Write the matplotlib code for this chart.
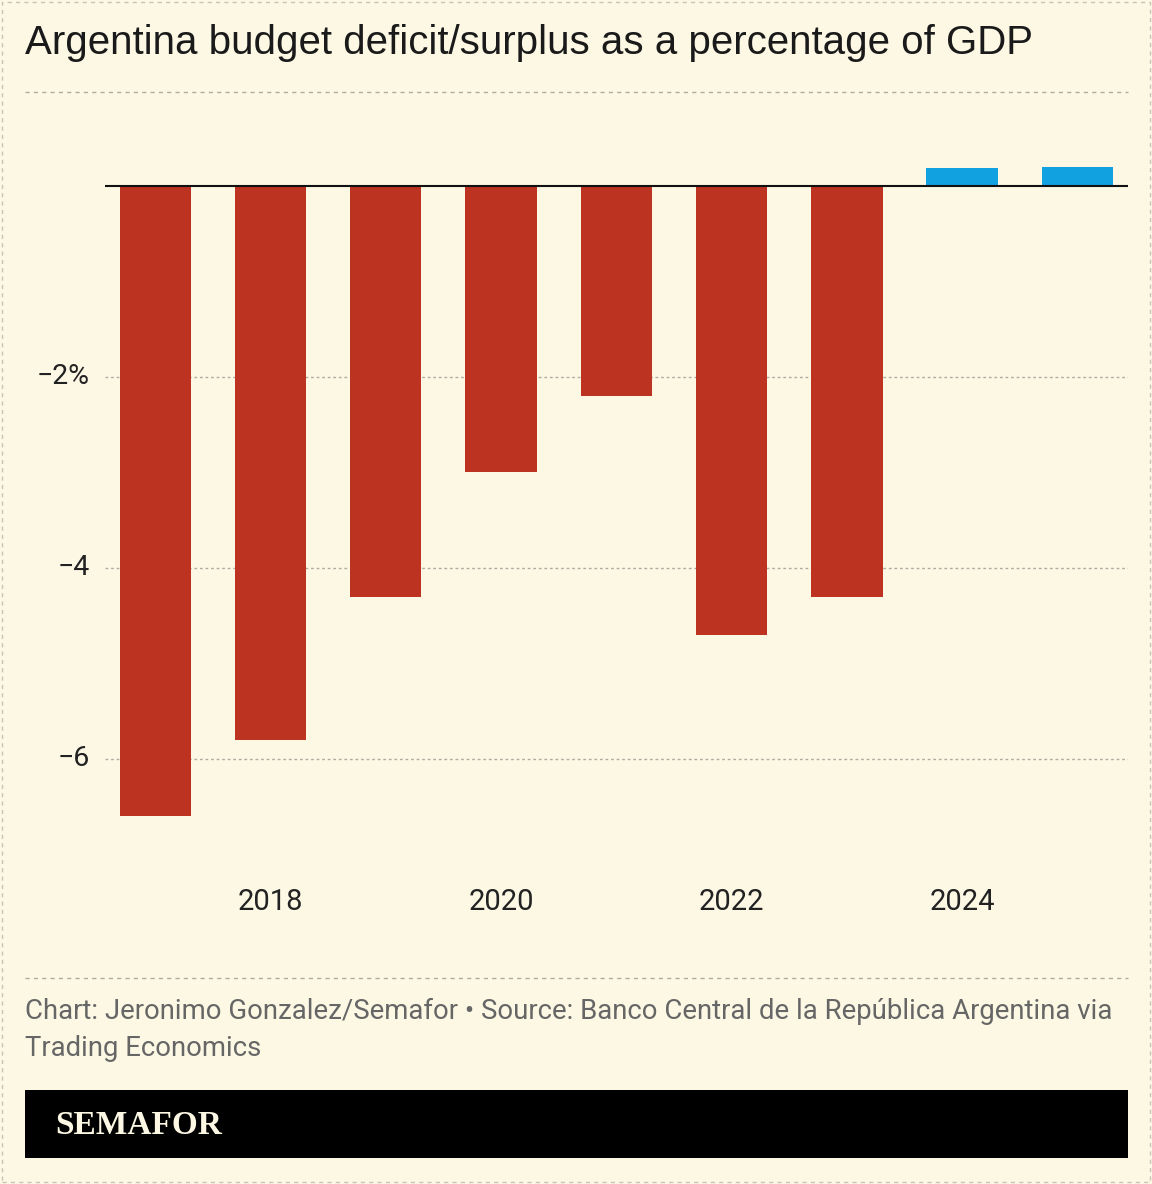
import matplotlib
matplotlib.use("Agg")
import matplotlib.pyplot as plt
from matplotlib.patches import Rectangle

years = [2017, 2018, 2019, 2020, 2021, 2022, 2023, 2024, 2025]
values = [-6.6, -5.8, -4.3, -3.0, -2.2, -4.7, -4.3, 0.19, 0.2]
xticks = [2018, 2020, 2022, 2024]
yticks = [-2, -4, -6]
ylabels = ["\u22122%", "\u22124", "\u22126"]

W, H = 1152, 1184
bg = "#fcf8e4"
fig = plt.figure(figsize=(W/100, H/100), dpi=100, facecolor=bg)

def fx(px): return px / W
def fy(py): return 1 - py / H

ax = fig.add_axes([fx(25), fy(960), fx(1128) - fx(25), fy(92) - fy(960)])
ax.set_facecolor(bg)
ax.set_xlim(2015.87, 2025.44)
ax.set_ylim(-8.105, 0.984)
for s in ax.spines.values():
    s.set_visible(False)
ax.set_xticks([]); ax.set_yticks([])

for y, lab in zip(yticks, ylabels):
    ax.hlines(y, 2016.56, 2025.44, colors="#b0aca0", linestyles=(0, (2, 2)), lw=1)
    ax.text(2016.43, y, lab, ha="right", va="center", fontsize=20.5, family="Roboto", color="#222")

cols = ["#bc3321" if v < 0 else "#11a0e0" for v in values]
ax.bar(years, values, width=0.62, color=cols, zorder=2)
ax.hlines(0, 2016.56, 2025.44, colors="#111", lw=1.5, zorder=3)
for t in xticks:
    ax.text(t, -7.5, str(t), ha="center", va="center", fontsize=21, family="Roboto", color="#222")

fig.text(fx(25), fy(43), "Argentina budget deficit/surplus as a percentage of GDP",
         fontsize=29, family="Liberation Sans", color="#1a1a1a", va="center")
for py in (92, 978):
    fig.add_artist(plt.Line2D([fx(25), fx(1128)], [fy(py), fy(py)], color="#b0aca0",
                              ls=(0, (3, 3)), lw=1))
fig.text(fx(25), fy(1011), "Chart: Jeronimo Gonzalez/Semafor \u2022 Source: Banco Central de la Rep\u00fablica Argentina via",
         fontsize=19.8, family="Roboto", color="#666", va="center")
fig.text(fx(25), fy(1049), "Trading Economics", fontsize=19.8, family="Roboto", color="#666", va="center")
fig.add_artist(Rectangle((fx(25), fy(1158)), fx(1128) - fx(25), fy(1090) - fy(1158),
                         transform=fig.transFigure, facecolor="black", edgecolor="none"))
fig.text(fx(55), fy(1125), "SEMAFOR", fontsize=24, family="Liberation Serif", weight="bold",
         color="#fcf8e4", va="center")
fig.add_artist(Rectangle((fx(2), fy(1182)), fx(1150) - fx(2), fy(2) - fy(1182),
                         transform=fig.transFigure, facecolor="none", edgecolor="#c8c4b8",
                         ls=(0, (3, 3)), lw=1))
fig.savefig("out.png", dpi=100, facecolor=bg)
